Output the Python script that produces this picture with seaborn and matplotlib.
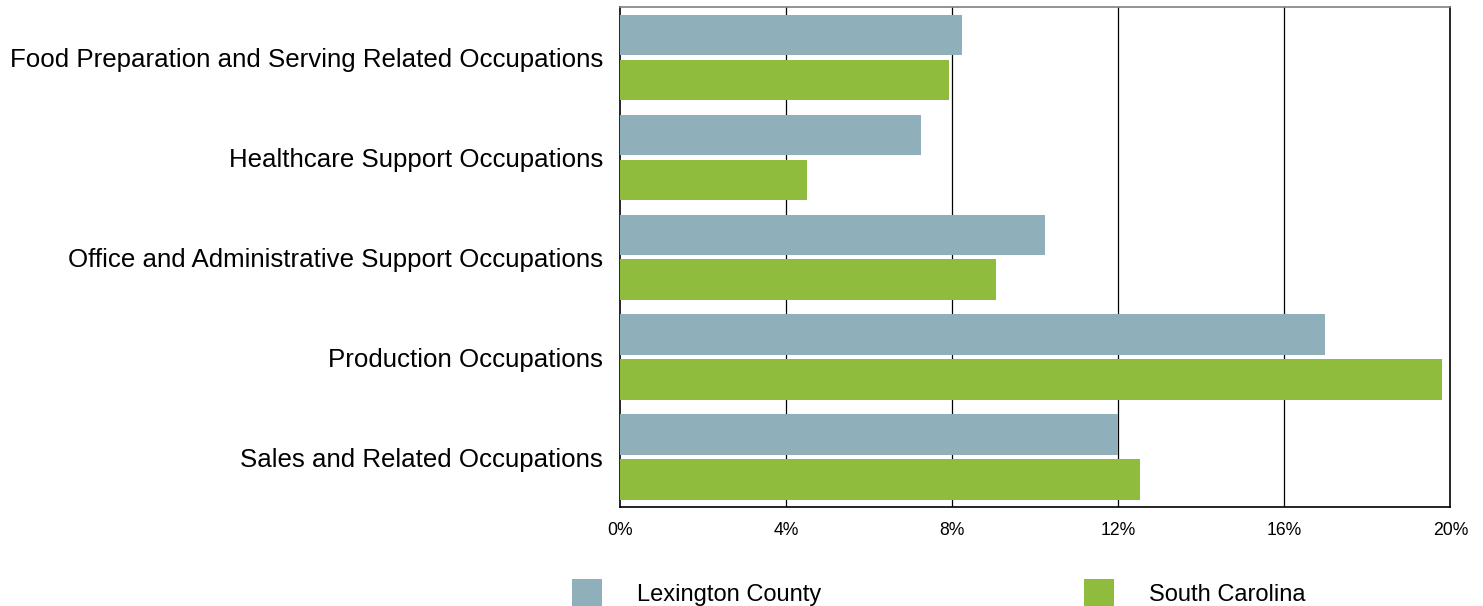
import matplotlib
matplotlib.use("Agg")
import matplotlib.pyplot as plt
from matplotlib.patches import Patch
import pandas as pd
import seaborn as sns

# values (% of employment)
occupations = [
    "Food Preparation and Serving Related Occupations",
    "Healthcare Support Occupations",
    "Office and Administrative Support Occupations",
    "Production Occupations",
    "Sales and Related Occupations",
]
lexington = [8.24, 7.25, 10.24, 16.99, 12.0]
south_carolina = [7.93, 4.5, 9.06, 19.81, 12.53]
regions = ["Lexington County", "South Carolina"]
colors = ["#8FAFBA", "#8FBC3D"]
xticks = [0, 4, 8, 12, 16, 20]

df = pd.DataFrame({
    "occupation": occupations * 2,
    "region": [regions[0]] * 5 + [regions[1]] * 5,
    "share": lexington + south_carolina,
})

sns.set_style("white")
plt.rcParams["font.family"] = ["Liberation Sans", "DejaVu Sans"]
plt.rcParams["text.color"] = "black"
plt.rcParams["xtick.color"] = "black"
plt.rcParams["ytick.color"] = "black"

fig = plt.figure(figsize=(14.83, 6.06), dpi=100)
ax = fig.add_axes([0.418, 0.163, 0.56, 0.825])

sns.barplot(data=df, y="occupation", x="share", hue="region", order=occupations,
            hue_order=regions, palette=colors, orient="h", width=0.9, gap=0.1,
            saturation=1, linewidth=0, legend=False, zorder=3, ax=ax)

ax.set_xlim(0, 20)
ax.set_ylim(4.5, -0.5)
ax.set_xticks(xticks)
ax.set_xticklabels([f"{t}%" for t in xticks], fontsize=12.7)
ax.set_xlabel("")
ax.set_ylabel("")
ax.tick_params(axis="x", length=0, pad=11)
ax.tick_params(axis="y", length=0, pad=12, labelsize=18.6)
for t in xticks[1:-1]:
    ax.axvline(t, color="black", lw=0.9, zorder=1)

for side in ["left", "bottom", "right"]:
    ax.spines[side].set_color("black")
    ax.spines[side].set_linewidth(1.2)
ax.spines["top"].set_color("#808080")
ax.spines["top"].set_linewidth(1.2)

handles = [Patch(facecolor=c, edgecolor="none") for c in colors]
fig.legend(handles, regions, loc="center left", bbox_to_anchor=(0.386, 0.022),
           ncol=2, frameon=False, fontsize=17, handlelength=1.27, handleheight=1.4,
           handletextpad=1.48, columnspacing=11.1, borderpad=0, borderaxespad=0)

fig.savefig("out.png", dpi=100)
